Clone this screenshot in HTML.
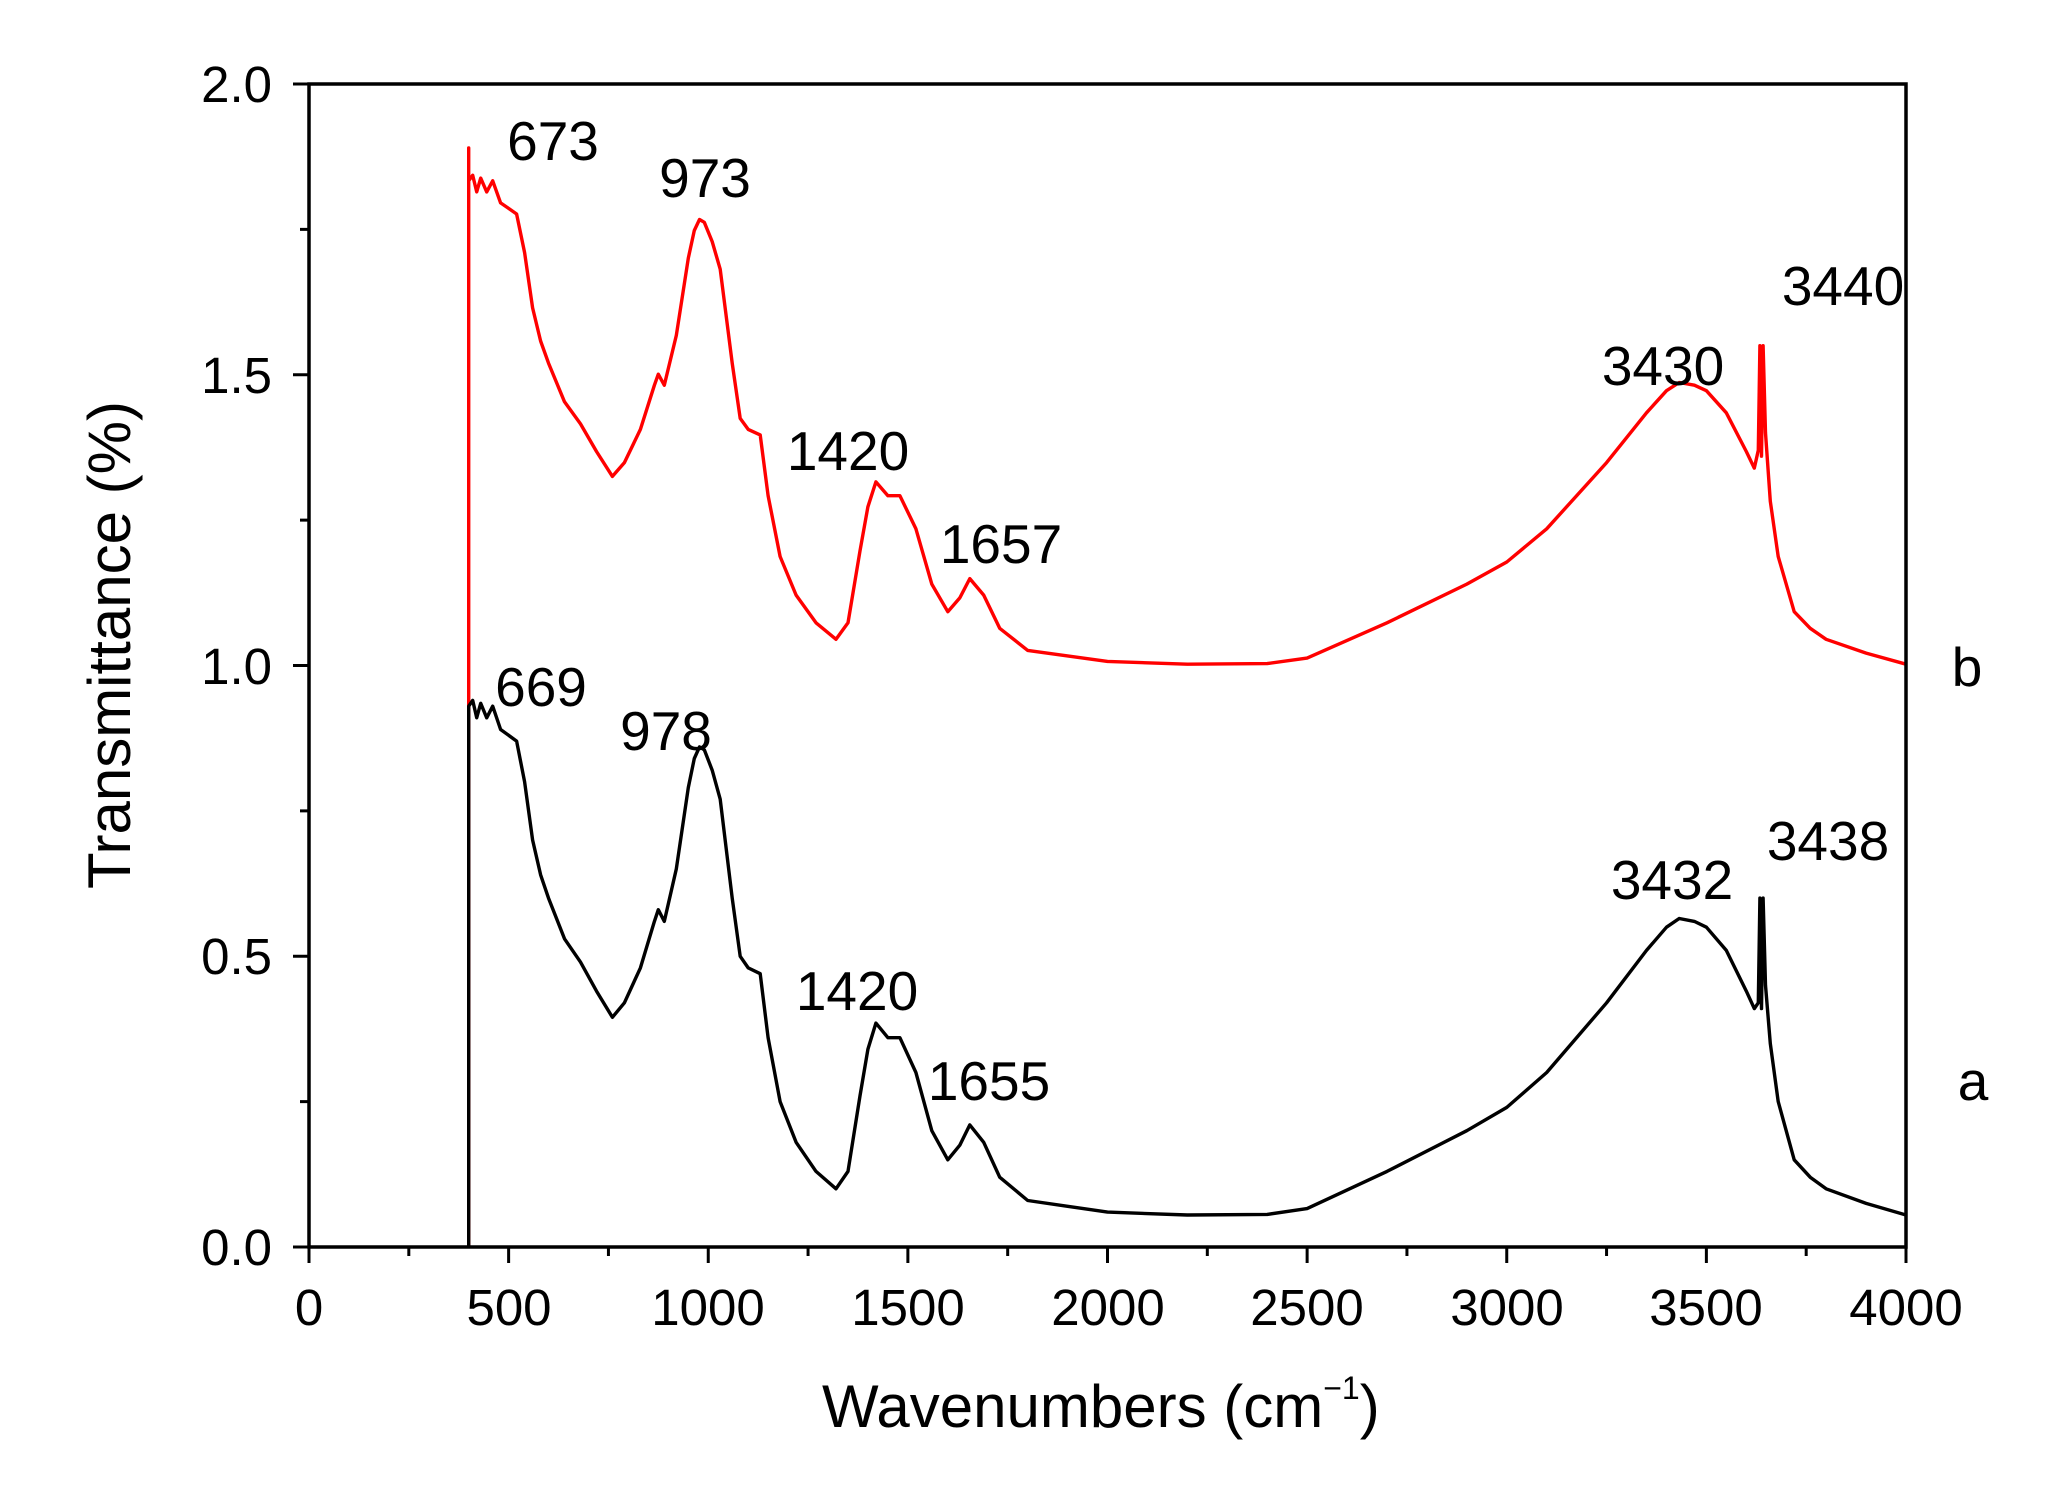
<!DOCTYPE html>
<html><head><meta charset="utf-8"><style>
html,body{margin:0;padding:0;background:#fff}
svg{display:block}
text{font-family:"Liberation Sans",Arial,sans-serif;fill:#000}
</style></head><body>
<svg id="s" width="2070" height="1489" viewBox="0 0 2070 1489" xmlns="http://www.w3.org/2000/svg">
<g id="ticks" stroke="#000" stroke-width="3"></g>
<polyline id="pb" fill="none" stroke="#ff0000" stroke-width="3.4" stroke-linejoin="round"/>
<polyline id="pa" fill="none" stroke="#000" stroke-width="3.4" stroke-linejoin="round"/>
<rect x="309" y="84" width="1597" height="1163" fill="none" stroke="#000" stroke-width="3.5"/>
<g font-size="51" text-anchor="end">
<text x="272" y="102">2.0</text>
<text x="272" y="393">1.5</text>
<text x="272" y="684">1.0</text>
<text x="272" y="974">0.5</text>
<text x="272" y="1265">0.0</text>
</g>
<g font-size="51" text-anchor="middle">
<text x="309" y="1325">0</text>
<text x="509" y="1325">500</text>
<text x="708" y="1325">1000</text>
<text x="908" y="1325">1500</text>
<text x="1108" y="1325">2000</text>
<text x="1307" y="1325">2500</text>
<text x="1507" y="1325">3000</text>
<text x="1706" y="1325">3500</text>
<text x="1906" y="1325">4000</text>
</g>
<text x="822" y="1427" font-size="60">Wavenumbers (cm<tspan font-size="32" dy="-28">−1</tspan><tspan dy="28">)</tspan></text>
<text transform="translate(130,645) rotate(-90)" font-size="60" text-anchor="middle">Transmittance (%)</text>
<g font-size="55" text-anchor="middle">
<text x="553" y="160">673</text>
<text x="705" y="197">973</text>
<text x="848" y="470">1420</text>
<text x="1001" y="563">1657</text>
<text x="1663" y="385">3430</text>
<text x="1843" y="305">3440</text>
<text x="1967" y="686">b</text>
<text x="541" y="706">669</text>
<text x="666" y="750">978</text>
<text x="857" y="1010">1420</text>
<text x="989" y="1100">1655</text>
<text x="1672" y="899">3432</text>
<text x="1828" y="860">3438</text>
<text x="1973" y="1100">a</text>
</g>
</svg>
<script>
var X=function(w){return 309+w/4000*1597},Y=function(t){return 1247-t*581.5};
var d=[[400,0.93],[410,0.94],[420,0.91],[430,0.935],[445,0.91],[460,0.93],[480,0.89],[500,0.88],[520,0.87],[540,0.8],[560,0.7],[580,0.64],[600,0.6],[640,0.53],[680,0.49],[720,0.44],[760,0.395],[790,0.42],[830,0.48],[865,0.56],[875,0.58],[890,0.56],[920,0.65],[950,0.79],[965,0.84],[978,0.86],[990,0.855],[1010,0.82],[1030,0.77],[1060,0.6],[1080,0.5],[1100,0.48],[1130,0.47],[1150,0.36],[1180,0.25],[1220,0.18],[1270,0.13],[1320,0.1],[1350,0.13],[1380,0.26],[1400,0.34],[1420,0.385],[1450,0.36],[1480,0.36],[1520,0.3],[1560,0.2],[1600,0.15],[1630,0.175],[1655,0.21],[1690,0.18],[1730,0.12],[1800,0.08],[1900,0.07],[2000,0.06],[2200,0.055],[2400,0.056],[2500,0.066],[2700,0.13],[2900,0.2],[3000,0.24],[3100,0.3],[3250,0.42],[3350,0.51],[3400,0.55],[3432,0.565],[3470,0.56],[3500,0.55],[3550,0.51],[3600,0.44],[3620,0.41],[3630,0.42],[3634,0.6],[3638,0.41],[3642,0.6],[3648,0.45],[3660,0.35],[3680,0.25],[3720,0.15],[3760,0.12],[3800,0.1],[3900,0.075],[4000,0.055]];
function pts(red,top){var s=X(400)+','+Y(0)+' '+X(400)+','+Y(top)+' ';d.forEach(function(p){var t=p[1];if(red){t=t+0.9+0.05*(1-t);if(p[0]>=3630&&p[0]<=3648)t=p[1]+0.95;}s+=X(p[0]).toFixed(1)+','+Y(t).toFixed(1)+' '});return s}
document.getElementById('pa').setAttribute('points',pts(false,0.93));
document.getElementById('pb').setAttribute('points',pts(true,1.89));
var g=document.getElementById('ticks'),h='';
for(var i=0;i<=16;i++){var x=X(i*250),L=(i%2==0)?16:9;h+='<line x1="'+x+'" y1="1247" x2="'+x+'" y2="'+(1247+L)+'"/>';}
for(var j=0;j<=8;j++){var y=Y(j*0.25),L2=(j%2==0)?16:9;h+='<line x1="309" y1="'+y+'" x2="'+(309-L2)+'" y2="'+y+'"/>';}
g.innerHTML=h;
</script>
</body></html>
